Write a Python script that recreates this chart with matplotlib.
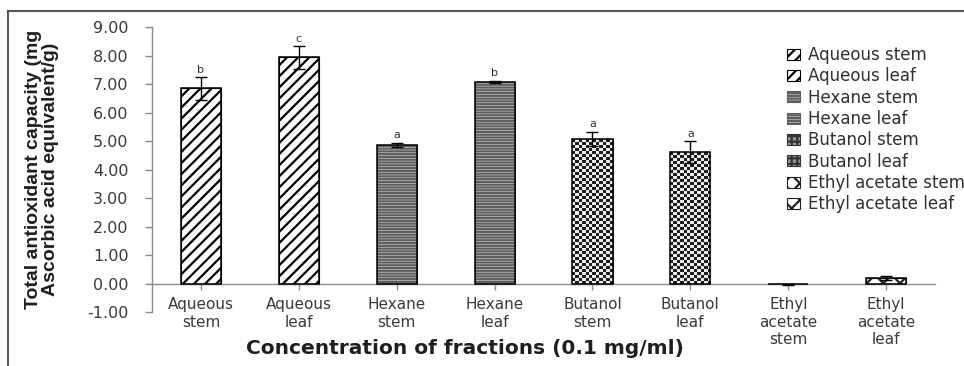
import numpy as np
import matplotlib
matplotlib.use("Agg")
import matplotlib.pyplot as plt
from matplotlib.lines import Line2D

# Fractions and their total antioxidant capacity (mg ascorbic acid equivalent / g)
categories = ["Aqueous\nstem", "Aqueous\nleaf", "Hexane\nstem", "Hexane\nleaf",
              "Butanol\nstem", "Butanol\nleaf", "Ethyl\nacetate\nstem", "Ethyl\nacetate\nleaf"]
series_names = ["Aqueous stem", "Aqueous leaf", "Hexane stem", "Hexane leaf",
                "Butanol stem", "Butanol leaf", "Ethyl acetate stem", "Ethyl acetate leaf"]
values = [6.85, 7.94, 4.86, 7.08, 5.07, 4.62, -0.03, 0.19]
errors = [0.40, 0.40, 0.08, 0.04, 0.26, 0.38, 0.02, 0.06]
letters = ["b", "c", "a", "b", "a", "a", "", ""]
y_ticks = [-1, 0, 1, 2, 3, 4, 5, 6, 7, 8, 9]

plt.rcParams["hatch.linewidth"] = 1.6

fig = plt.figure(figsize=(9.64, 3.66), dpi=100)
ax = fig.add_axes([0.1577, 0.1475, 0.8123, 0.7785])

x = np.arange(len(values))
width = 0.41

# fill style per fraction: (hatch, hatch colour, face colour)
styles = {
    "Aqueous": ("///", "black", "white"),
    "Hexane": ("------", "#5e5e5e", "#dcdcdc"),
    "Butanol": ("+++", "#333333", "#9a9a9a"),
    "Ethyl": ("xx", "#222222", "white"),
}

bars = []
for i, (name, v) in enumerate(zip(series_names, values)):
    hatch, hcol, face = styles[name.split()[0]]
    b = ax.bar(x[i], v, width, facecolor=face, edgecolor=hcol, hatch=hatch,
               linewidth=0.8, zorder=2)
    b[0].set_label(name)
    bars.append(b[0])
    ax.bar(x[i], v, width, fill=False, edgecolor="black", linewidth=1.1, zorder=4)

# checkerboard texture for the butanol fractions
cell_px = 3.4
fig.canvas.draw()
px_per_x = ax.transData.transform((1, 0))[0] - ax.transData.transform((0, 0))[0]
px_per_y = ax.transData.transform((0, 1))[1] - ax.transData.transform((0, 0))[1]
for i, name in enumerate(series_names):
    if not name.startswith("Butanol"):
        continue
    p = bars[i]
    x0, w, h = p.get_x(), p.get_width(), p.get_height()
    nx = max(1, int(round(w * px_per_x / cell_px)))
    ny = max(1, int(round(h * px_per_y / cell_px)))
    board = (np.add.outer(np.arange(ny), np.arange(nx)) % 2) * 0.8 + 0.12
    im = ax.imshow(board, extent=(x0, x0 + w, 0, h), cmap="gray", vmin=0, vmax=1,
                   interpolation="nearest", aspect="auto", zorder=3)
    im.set_clip_path(p)

ax.errorbar(x, values, yerr=errors, fmt="none", ecolor="black", elinewidth=1.0,
            capsize=4, capthick=1.0, zorder=5)

for xi, v, e, t in zip(x, values, errors, letters):
    if t:
        ax.text(xi, v + e + 0.08, t, ha="center", va="bottom", fontsize=8,
                color="#333333", zorder=6)

ax.set_xlim(-0.5, len(values) - 0.5)
ax.set_ylim(-1, 9)
ax.set_yticks(y_ticks)
ax.set_yticklabels([f"{t:.2f}" for t in y_ticks])
ax.set_xticks(x)
ax.set_xticklabels(categories, linespacing=1.1)

for s in ["top", "right"]:
    ax.spines[s].set_visible(False)
ax.spines["bottom"].set_position(("data", 0))
for s in ["left", "bottom"]:
    ax.spines[s].set_color("#8c8c8c")
    ax.spines[s].set_linewidth(1.0)
ax.tick_params(axis="y", direction="out", length=5, width=1, color="#8c8c8c",
               pad=12, labelsize=11.5, labelcolor="#3a3a3a")
ax.tick_params(axis="x", direction="out", length=4, width=1, color="#8c8c8c",
               pad=6, labelsize=11, labelcolor="#3a3a3a")

ax.set_ylabel("Total antioxidant capacity (mg\nAscorbic acid equivalent/g)",
              family=["Liberation Sans", "DejaVu Sans"], fontweight="bold",
              fontsize=14, color="#1e1e1e", linespacing=1.0, labelpad=20)
fig.text(0.482, 0.048, "Concentration of fractions (0.1 mg/ml)", ha="center",
         va="center", fontsize=14.5, fontweight="bold", color="#1e1e1e")

ax.legend(handles=bars, loc="upper left", bbox_to_anchor=(0.808, 0.897),
          bbox_transform=fig.transFigure, frameon=False, fontsize=12,
          handlelength=0.75, handleheight=0.65, handletextpad=0.5,
          labelspacing=0.2, borderpad=0, labelcolor="#303030")

# outer frame lines
fig.add_artist(Line2D([0.0083, 0.999], [0.970, 0.970], transform=fig.transFigure,
                      color="#555555", linewidth=1.5))
fig.add_artist(Line2D([0.0083, 0.0083], [0.0, 0.970], transform=fig.transFigure,
                      color="#555555", linewidth=1.5))

fig.savefig("out.png", dpi=100)
